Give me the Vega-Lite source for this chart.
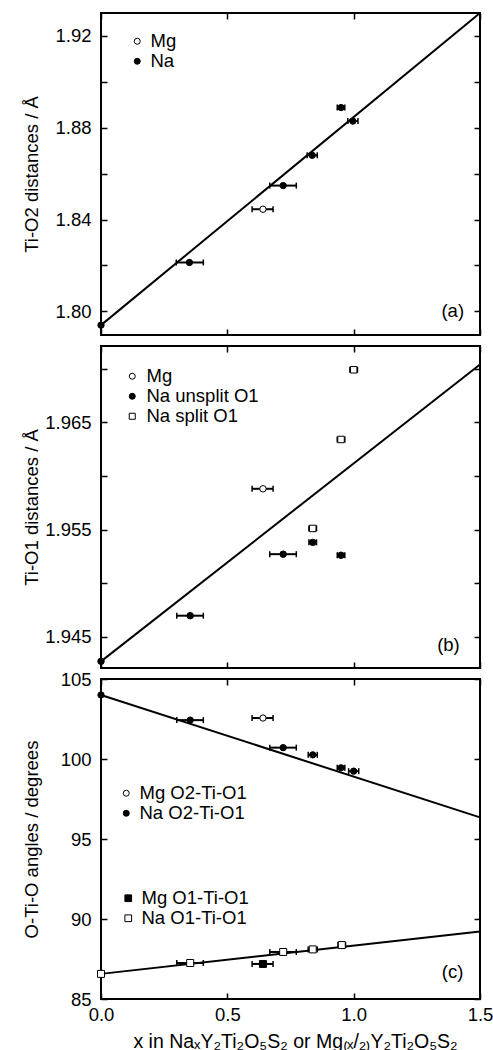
{
  "$schema": "https://vega.github.io/schema/vega-lite/v6.json",
  "padding": {"left": 21, "top": 8, "right": 0, "bottom": 0},
  "spacing": 11,
  "bounds": "flush",
  "datasets": {
    "a_line": [{"x": 0, "y": 1.794}, {"x": 1.5, "y": 1.9300}],
    "a_pts": [
      {"x": 0, "y": 1.794, "s": "Na"},
      {"x": 0.35, "y": 1.8213, "xlo": 0.298, "xhi": 0.405, "s": "Na"},
      {"x": 0.641, "y": 1.8445, "xlo": 0.598, "xhi": 0.681, "s": "Mg"},
      {"x": 0.721, "y": 1.8548, "xlo": 0.668, "xhi": 0.773, "s": "Na"},
      {"x": 0.836, "y": 1.868, "xlo": 0.816, "xhi": 0.856, "s": "Na"},
      {"x": 0.95, "y": 1.8888, "xlo": 0.935, "xhi": 0.965, "s": "Na"},
      {"x": 0.997, "y": 1.8829, "xlo": 0.977, "xhi": 1.017, "s": "Na"}
    ],
    "a_lab": [{"x": 1.437, "y": 1.80, "t": "(a)"}],
    "b_line": [{"x": 0, "y": 1.9427}, {"x": 1.5, "y": 1.9704}],
    "b_pts": [
      {"x": 0, "y": 1.9427, "s": "Na unsplit O1"},
      {"x": 0.353, "y": 1.94696, "xlo": 0.30, "xhi": 0.405, "s": "Na unsplit O1"},
      {"x": 0.641, "y": 1.9588, "xlo": 0.598, "xhi": 0.681, "s": "Mg"},
      {"x": 0.721, "y": 1.9527, "xlo": 0.668, "xhi": 0.773, "s": "Na unsplit O1"},
      {"x": 0.838, "y": 1.9538, "xlo": 0.823, "xhi": 0.853, "s": "Na unsplit O1"},
      {"x": 0.838, "y": 1.9551, "xlo": 0.823, "xhi": 0.853, "s": "Na split O1"},
      {"x": 0.95, "y": 1.9526, "xlo": 0.935, "xhi": 0.965, "s": "Na unsplit O1"},
      {"x": 0.95, "y": 1.9634, "xlo": 0.935, "xhi": 0.965, "s": "Na split O1"},
      {"x": 1.0, "y": 1.9699, "xlo": 0.985, "xhi": 1.015, "s": "Na split O1"}
    ],
    "b_lab": [{"x": 1.42, "y": 1.9442, "t": "(b)"}],
    "c_line1": [{"x": 0, "y": 104.0}, {"x": 1.5, "y": 96.35}],
    "c_line2": [{"x": 0, "y": 86.57}, {"x": 1.5, "y": 89.22}],
    "c_circ": [
      {"x": 0, "y": 104.0, "g": "Na O2-Ti-O1"},
      {"x": 0.353, "y": 102.43, "xlo": 0.30, "xhi": 0.405, "g": "Na O2-Ti-O1"},
      {"x": 0.641, "y": 102.56, "xlo": 0.598, "xhi": 0.681, "g": "Mg O2-Ti-O1"},
      {"x": 0.721, "y": 100.71, "xlo": 0.668, "xhi": 0.773, "g": "Na O2-Ti-O1"},
      {"x": 0.838, "y": 100.26, "xlo": 0.82, "xhi": 0.856, "g": "Na O2-Ti-O1"},
      {"x": 0.95, "y": 99.45, "xlo": 0.935, "xhi": 0.965, "g": "Na O2-Ti-O1"},
      {"x": 1.0, "y": 99.24, "xlo": 0.98, "xhi": 1.02, "g": "Na O2-Ti-O1"}
    ],
    "c_sq": [
      {"x": 0, "y": 86.57, "h": "Na O1-Ti-O1"},
      {"x": 0.353, "y": 87.25, "xlo": 0.30, "xhi": 0.405, "h": "Na O1-Ti-O1"},
      {"x": 0.641, "y": 87.19, "xlo": 0.598, "xhi": 0.681, "h": "Mg O1-Ti-O1"},
      {"x": 0.721, "y": 87.94, "xlo": 0.668, "xhi": 0.773, "h": "Na O1-Ti-O1"},
      {"x": 0.838, "y": 88.1, "xlo": 0.82, "xhi": 0.856, "h": "Na O1-Ti-O1"},
      {"x": 0.953, "y": 88.37, "xlo": 0.938, "xhi": 0.968, "h": "Na O1-Ti-O1"}
    ],
    "c_lab": [{"x": 1.434, "y": 86.68, "t": "(c)"}]
  },
  "vconcat": [
    {
      "width": 379,
      "height": 322,
      "layer": [
        {
          "data": {"name": "a_line"},
          "mark": {"type": "line", "color": "black", "strokeWidth": 2},
          "encoding": {
            "x": {"field": "x", "type": "quantitative", "scale": {"domain": [0, 1.5], "nice": false, "zero": false},
                  "axis": {"orient": "bottom", "values": [0, 0.5, 1, 1.5], "labels": false, "title": null}},
            "y": {"field": "y", "type": "quantitative", "scale": {"domain": [1.7897, 1.93], "nice": false, "zero": false},
                  "axis": {"orient": "left", "values": [1.8, 1.82, 1.84, 1.86, 1.88, 1.9, 1.92], "format": ".2f",
                           "labelExpr": "indexof(['1.80','1.84','1.88','1.92'], datum.label) >= 0 ? datum.label : ''",
                           "title": "Ti-O2 distances / Å", "titleX": -70, "titleBaseline": "middle"}}
          }
        },
        {
          "data": {"name": "a_line"},
          "mark": {"type": "line", "opacity": 0},
          "encoding": {
            "x": {"field": "x", "type": "quantitative", "scale": {"domain": [0, 1.5], "nice": false, "zero": false},
                  "axis": {"orient": "top", "values": [0, 0.5, 1, 1.5], "labels": false, "title": null}},
            "y": {"field": "y", "type": "quantitative", "scale": {"domain": [1.7897, 1.93], "nice": false, "zero": false},
                  "axis": {"orient": "right", "values": [1.8, 1.82, 1.84, 1.86, 1.88, 1.9, 1.92], "labels": false, "title": null}}
          }
        },
        {
          "data": {"name": "a_pts"},
          "transform": [{"filter": "isValid(datum.xlo)"}],
          "mark": {"type": "rule", "color": "black", "strokeWidth": 2},
          "encoding": {
            "x": {"field": "xlo", "type": "quantitative", "scale": {"domain": [0, 1.5], "nice": false, "zero": false}, "axis": null},
            "x2": {"field": "xhi"},
            "y": {"field": "y", "type": "quantitative", "scale": {"domain": [1.7897, 1.93], "nice": false, "zero": false}, "axis": null}
          }
        },
        {
          "data": {"name": "a_pts"},
          "transform": [{"filter": "isValid(datum.xlo)"}],
          "mark": {"type": "tick", "orient": "vertical", "color": "black", "size": 6, "thickness": 1.5, "opacity": 1},
          "encoding": {
            "x": {"field": "xlo", "type": "quantitative", "scale": {"domain": [0, 1.5], "nice": false, "zero": false}, "axis": null},
            "y": {"field": "y", "type": "quantitative", "scale": {"domain": [1.7897, 1.93], "nice": false, "zero": false}, "axis": null}
          }
        },
        {
          "data": {"name": "a_pts"},
          "transform": [{"filter": "isValid(datum.xhi)"}],
          "mark": {"type": "tick", "orient": "vertical", "color": "black", "size": 6, "thickness": 1.5, "opacity": 1},
          "encoding": {
            "x": {"field": "xhi", "type": "quantitative", "scale": {"domain": [0, 1.5], "nice": false, "zero": false}, "axis": null},
            "y": {"field": "y", "type": "quantitative", "scale": {"domain": [1.7897, 1.93], "nice": false, "zero": false}, "axis": null}
          }
        },
        {
          "data": {"name": "a_pts"},
          "mark": {"type": "point", "shape": "circle", "size": 40, "stroke": "black", "strokeWidth": 1, "opacity": 1},
          "encoding": {
            "x": {"field": "x", "type": "quantitative", "scale": {"domain": [0, 1.5], "nice": false, "zero": false}, "axis": null},
            "y": {"field": "y", "type": "quantitative", "scale": {"domain": [1.7897, 1.93], "nice": false, "zero": false}, "axis": null},
            "fill": {"field": "s", "type": "nominal", "scale": {"domain": ["Mg", "Na"], "range": ["white", "black"]},
                     "legend": {"title": null, "orient": "none", "legendX": 27, "legendY": 19, "labelOffset": 4, "rowPadding": 1,
                                "symbolStrokeColor": "black", "symbolStrokeWidth": 1, "symbolSize": 36, "symbolType": "circle",
                                "encode": {"symbols": {"update": {"stroke": {"value": "black"}, "strokeWidth": {"value": 1}}}}}}
          }
        },
        {
          "data": {"name": "a_lab"},
          "mark": {"type": "text", "align": "right", "baseline": "middle", "fontSize": 18.5, "color": "black"},
          "encoding": {
            "x": {"field": "x", "type": "quantitative", "scale": {"domain": [0, 1.5], "nice": false, "zero": false}, "axis": null},
            "y": {"field": "y", "type": "quantitative", "scale": {"domain": [1.7897, 1.93], "nice": false, "zero": false}, "axis": null},
            "text": {"field": "t"}
          }
        }
      ],
      "resolve": {"axis": {"x": "independent", "y": "independent"}}
    },
    {
      "width": 379,
      "height": 322,
      "layer": [
        {
          "data": {"name": "b_line"},
          "mark": {"type": "line", "color": "black", "strokeWidth": 2},
          "encoding": {
            "x": {"field": "x", "type": "quantitative", "scale": {"domain": [0, 1.5], "nice": false, "zero": false},
                  "axis": {"orient": "bottom", "values": [0, 0.5, 1, 1.5], "labels": false, "title": null}},
            "y": {"field": "y", "type": "quantitative", "scale": {"domain": [1.94208, 1.97212], "nice": false, "zero": false},
                  "axis": {"orient": "left", "values": [1.945, 1.95, 1.955, 1.96, 1.965, 1.97], "format": ".3f",
                           "labelExpr": "indexof(['1.945','1.955','1.965'], datum.label) >= 0 ? datum.label : ''",
                           "title": "Ti-O1 distances / Å", "titleX": -70, "titleBaseline": "middle"}}
          }
        },
        {
          "data": {"name": "b_line"},
          "mark": {"type": "line", "opacity": 0},
          "encoding": {
            "x": {"field": "x", "type": "quantitative", "scale": {"domain": [0, 1.5], "nice": false, "zero": false},
                  "axis": {"orient": "top", "values": [0, 0.5, 1, 1.5], "labels": false, "title": null}},
            "y": {"field": "y", "type": "quantitative", "scale": {"domain": [1.94208, 1.97212], "nice": false, "zero": false},
                  "axis": {"orient": "right", "values": [1.945, 1.95, 1.955, 1.96, 1.965, 1.97], "labels": false, "title": null}}
          }
        },
        {
          "data": {"name": "b_pts"},
          "transform": [{"filter": "isValid(datum.xlo)"}],
          "mark": {"type": "rule", "color": "black", "strokeWidth": 2},
          "encoding": {
            "x": {"field": "xlo", "type": "quantitative", "scale": {"domain": [0, 1.5], "nice": false, "zero": false}, "axis": null},
            "x2": {"field": "xhi"},
            "y": {"field": "y", "type": "quantitative", "scale": {"domain": [1.94208, 1.97212], "nice": false, "zero": false}, "axis": null}
          }
        },
        {
          "data": {"name": "b_pts"},
          "transform": [{"filter": "isValid(datum.xlo)"}],
          "mark": {"type": "tick", "orient": "vertical", "color": "black", "size": 6, "thickness": 1.5, "opacity": 1},
          "encoding": {
            "x": {"field": "xlo", "type": "quantitative", "scale": {"domain": [0, 1.5], "nice": false, "zero": false}, "axis": null},
            "y": {"field": "y", "type": "quantitative", "scale": {"domain": [1.94208, 1.97212], "nice": false, "zero": false}, "axis": null}
          }
        },
        {
          "data": {"name": "b_pts"},
          "transform": [{"filter": "isValid(datum.xhi)"}],
          "mark": {"type": "tick", "orient": "vertical", "color": "black", "size": 6, "thickness": 1.5, "opacity": 1},
          "encoding": {
            "x": {"field": "xhi", "type": "quantitative", "scale": {"domain": [0, 1.5], "nice": false, "zero": false}, "axis": null},
            "y": {"field": "y", "type": "quantitative", "scale": {"domain": [1.94208, 1.97212], "nice": false, "zero": false}, "axis": null}
          }
        },
        {
          "data": {"name": "b_pts"},
          "mark": {"type": "point", "size": 42, "strokeWidth": 1, "opacity": 1},
          "encoding": {
            "x": {"field": "x", "type": "quantitative", "scale": {"domain": [0, 1.5], "nice": false, "zero": false}, "axis": null},
            "y": {"field": "y", "type": "quantitative", "scale": {"domain": [1.94208, 1.97212], "nice": false, "zero": false}, "axis": null},
            "fill": {"field": "s", "type": "nominal", "scale": {"domain": ["Mg", "Na unsplit O1", "Na split O1"], "range": ["white", "black", "white"]},
                     "legend": {"title": null, "orient": "none", "legendX": 22, "legendY": 21, "labelOffset": 5, "rowPadding": 1,
                                "symbolStrokeWidth": 1, "symbolSize": 36}},
            "shape": {"field": "s", "type": "nominal", "scale": {"domain": ["Mg", "Na unsplit O1", "Na split O1"], "range": ["circle", "circle", "square"]},
                     "legend": {"title": null, "orient": "none", "legendX": 22, "legendY": 21, "labelOffset": 5, "rowPadding": 1,
                                "symbolStrokeWidth": 1, "symbolSize": 36}},
            "stroke": {"field": "s", "type": "nominal", "scale": {"domain": ["Mg", "Na unsplit O1", "Na split O1"], "range": ["black", "black", "black"]},
                     "legend": {"title": null, "orient": "none", "legendX": 22, "legendY": 21, "labelOffset": 5, "rowPadding": 1,
                                "symbolStrokeWidth": 1, "symbolSize": 36}}
          }
        },
        {
          "data": {"name": "b_lab"},
          "mark": {"type": "text", "align": "right", "baseline": "middle", "fontSize": 18.5, "color": "black"},
          "encoding": {
            "x": {"field": "x", "type": "quantitative", "scale": {"domain": [0, 1.5], "nice": false, "zero": false}, "axis": null},
            "y": {"field": "y", "type": "quantitative", "scale": {"domain": [1.94208, 1.97212], "nice": false, "zero": false}, "axis": null},
            "text": {"field": "t"}
          }
        }
      ],
      "resolve": {"axis": {"x": "independent", "y": "independent"}}
    },
    {
      "width": 379,
      "height": 320,
      "layer": [
        {
          "data": {"name": "c_line1"},
          "mark": {"type": "line", "color": "black", "strokeWidth": 2},
          "encoding": {
            "x": {"field": "x", "type": "quantitative", "scale": {"domain": [0, 1.5], "nice": false, "zero": false},
                  "axis": {"orient": "bottom", "values": [0, 0.5, 1, 1.5], "format": ".1f", "labelPadding": 12,
                           "title": "x in NaₓY₂Ti₂O₅S₂ or Mg₍ₓ/₂₎Y₂Ti₂O₅S₂", "titleFontSize": 19.5, "titleX": 194, "titleY": 48, "titleBaseline": "alphabetic"}},
            "y": {"field": "y", "type": "quantitative", "scale": {"domain": [85, 105], "nice": false, "zero": false},
                  "axis": {"orient": "left", "values": [85, 90, 95, 100, 105],
                           "title": "O-Ti-O angles / degrees", "titleX": -70, "titleBaseline": "middle"}}
          }
        },
        {
          "data": {"name": "c_line1"},
          "mark": {"type": "line", "opacity": 0},
          "encoding": {
            "x": {"field": "x", "type": "quantitative", "scale": {"domain": [0, 1.5], "nice": false, "zero": false},
                  "axis": {"orient": "top", "values": [0, 0.5, 1, 1.5], "labels": false, "title": null}},
            "y": {"field": "y", "type": "quantitative", "scale": {"domain": [85, 105], "nice": false, "zero": false},
                  "axis": {"orient": "right", "values": [85, 90, 95, 100, 105], "labels": false, "title": null}}
          }
        },
        {
          "data": {"name": "c_line2"},
          "mark": {"type": "line", "color": "black", "strokeWidth": 2},
          "encoding": {
            "x": {"field": "x", "type": "quantitative", "scale": {"domain": [0, 1.5], "nice": false, "zero": false}, "axis": null},
            "y": {"field": "y", "type": "quantitative", "scale": {"domain": [85, 105], "nice": false, "zero": false}, "axis": null}
          }
        },
        {
          "data": {"name": "c_circ"},
          "transform": [{"filter": "isValid(datum.xlo)"}],
          "mark": {"type": "rule", "color": "black", "strokeWidth": 2},
          "encoding": {
            "x": {"field": "xlo", "type": "quantitative", "scale": {"domain": [0, 1.5], "nice": false, "zero": false}, "axis": null},
            "x2": {"field": "xhi"},
            "y": {"field": "y", "type": "quantitative", "scale": {"domain": [85, 105], "nice": false, "zero": false}, "axis": null}
          }
        },
        {
          "data": {"name": "c_circ"},
          "transform": [{"filter": "isValid(datum.xlo)"}],
          "mark": {"type": "tick", "orient": "vertical", "color": "black", "size": 6, "thickness": 1.5, "opacity": 1},
          "encoding": {
            "x": {"field": "xlo", "type": "quantitative", "scale": {"domain": [0, 1.5], "nice": false, "zero": false}, "axis": null},
            "y": {"field": "y", "type": "quantitative", "scale": {"domain": [85, 105], "nice": false, "zero": false}, "axis": null}
          }
        },
        {
          "data": {"name": "c_circ"},
          "transform": [{"filter": "isValid(datum.xhi)"}],
          "mark": {"type": "tick", "orient": "vertical", "color": "black", "size": 6, "thickness": 1.5, "opacity": 1},
          "encoding": {
            "x": {"field": "xhi", "type": "quantitative", "scale": {"domain": [0, 1.5], "nice": false, "zero": false}, "axis": null},
            "y": {"field": "y", "type": "quantitative", "scale": {"domain": [85, 105], "nice": false, "zero": false}, "axis": null}
          }
        },
        {
          "data": {"name": "c_sq"},
          "transform": [{"filter": "isValid(datum.xlo)"}],
          "mark": {"type": "rule", "color": "black", "strokeWidth": 2},
          "encoding": {
            "x": {"field": "xlo", "type": "quantitative", "scale": {"domain": [0, 1.5], "nice": false, "zero": false}, "axis": null},
            "x2": {"field": "xhi"},
            "y": {"field": "y", "type": "quantitative", "scale": {"domain": [85, 105], "nice": false, "zero": false}, "axis": null}
          }
        },
        {
          "data": {"name": "c_sq"},
          "transform": [{"filter": "isValid(datum.xlo)"}],
          "mark": {"type": "tick", "orient": "vertical", "color": "black", "size": 6, "thickness": 1.5, "opacity": 1},
          "encoding": {
            "x": {"field": "xlo", "type": "quantitative", "scale": {"domain": [0, 1.5], "nice": false, "zero": false}, "axis": null},
            "y": {"field": "y", "type": "quantitative", "scale": {"domain": [85, 105], "nice": false, "zero": false}, "axis": null}
          }
        },
        {
          "data": {"name": "c_sq"},
          "transform": [{"filter": "isValid(datum.xhi)"}],
          "mark": {"type": "tick", "orient": "vertical", "color": "black", "size": 6, "thickness": 1.5, "opacity": 1},
          "encoding": {
            "x": {"field": "xhi", "type": "quantitative", "scale": {"domain": [0, 1.5], "nice": false, "zero": false}, "axis": null},
            "y": {"field": "y", "type": "quantitative", "scale": {"domain": [85, 105], "nice": false, "zero": false}, "axis": null}
          }
        },
        {
          "data": {"name": "c_circ"},
          "mark": {"type": "point", "shape": "circle", "size": 40, "stroke": "black", "strokeWidth": 1, "opacity": 1},
          "encoding": {
            "x": {"field": "x", "type": "quantitative", "scale": {"domain": [0, 1.5], "nice": false, "zero": false}, "axis": null},
            "y": {"field": "y", "type": "quantitative", "scale": {"domain": [85, 105], "nice": false, "zero": false}, "axis": null},
            "fill": {"field": "g", "type": "nominal", "scale": {"domain": ["Mg O2-Ti-O1", "Na O2-Ti-O1"], "range": ["white", "black"]},
                     "legend": {"title": null, "orient": "none", "legendX": 16, "legendY": 105, "labelOffset": 4, "rowPadding": 1,
                                "symbolStrokeColor": "black", "symbolStrokeWidth": 1, "symbolSize": 36, "symbolType": "circle",
                                "encode": {"symbols": {"update": {"stroke": {"value": "black"}, "strokeWidth": {"value": 1}}}}}}
          }
        },
        {
          "data": {"name": "c_sq"},
          "mark": {"type": "point", "shape": "square", "size": 49, "stroke": "black", "strokeWidth": 1, "opacity": 1},
          "encoding": {
            "x": {"field": "x", "type": "quantitative", "scale": {"domain": [0, 1.5], "nice": false, "zero": false}, "axis": null},
            "y": {"field": "y", "type": "quantitative", "scale": {"domain": [85, 105], "nice": false, "zero": false}, "axis": null},
            "fill": {"field": "h", "type": "nominal", "scale": {"domain": ["Mg O1-Ti-O1", "Na O1-Ti-O1"], "range": ["black", "white"]},
                     "legend": {"title": null, "orient": "none", "legendX": 18, "legendY": 210, "labelOffset": 4, "rowPadding": 1,
                                "symbolStrokeColor": "black", "symbolStrokeWidth": 1, "symbolSize": 45, "symbolType": "square",
                                "encode": {"symbols": {"update": {"stroke": {"value": "black"}, "strokeWidth": {"value": 1}}}}}}
          }
        },
        {
          "data": {"name": "c_lab"},
          "mark": {"type": "text", "align": "right", "baseline": "middle", "fontSize": 18.5, "color": "black"},
          "encoding": {
            "x": {"field": "x", "type": "quantitative", "scale": {"domain": [0, 1.5], "nice": false, "zero": false}, "axis": null},
            "y": {"field": "y", "type": "quantitative", "scale": {"domain": [85, 105], "nice": false, "zero": false}, "axis": null},
            "text": {"field": "t"}
          }
        }
      ],
      "resolve": {"axis": {"x": "independent", "y": "independent"}, "scale": {"fill": "independent"}}
    }
  ],
  "resolve": {"scale": {"fill": "independent", "shape": "independent", "stroke": "independent"}},
  "config": {
    "font": "Liberation Sans",
    "background": "white",
    "view": {"stroke": "black", "strokeWidth": 2},
    "axis": {
      "domain": false, "grid": false,
      "tickColor": "black", "tickWidth": 1.5, "tickSize": -6,
      "labelFont": "Liberation Sans", "labelFontSize": 18.5, "labelColor": "black",
      "labelPadding": 16, "labelFlush": false, "labelOverlap": false,
      "titleFont": "Liberation Sans", "titleFontSize": 18.5, "titleFontWeight": "normal", "titleColor": "black"
    },
    "legend": {"labelFont": "Liberation Sans", "labelFontSize": 18.5, "labelColor": "black", "padding": 0}
  }
}
